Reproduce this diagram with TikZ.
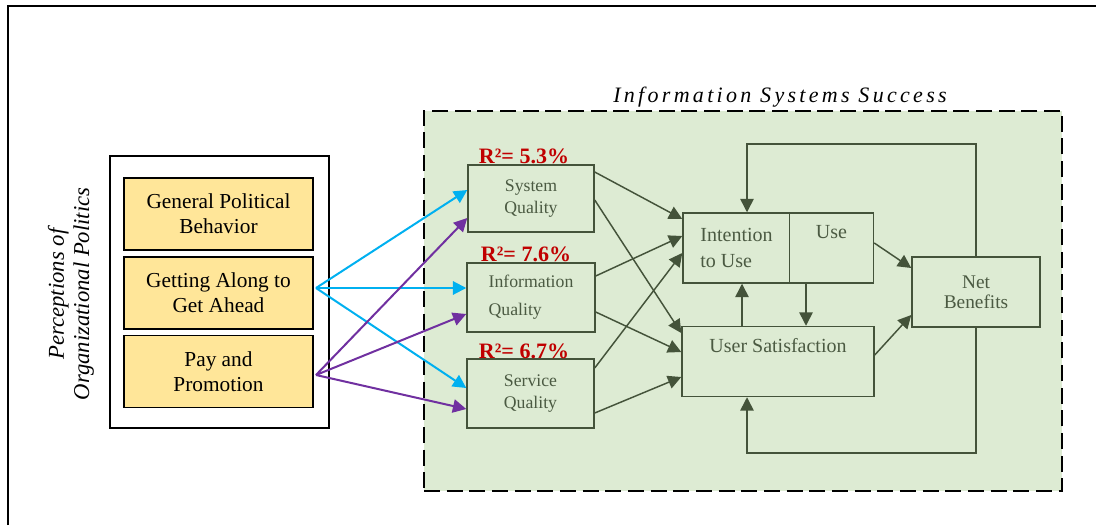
\documentclass[tikz,border=0pt]{standalone}
\usepackage{fontspec}
\setmainfont{Liberation Serif}
\usetikzlibrary{arrows.meta}

\definecolor{regionfill}{HTML}{DDEBD3}
\definecolor{gline}{HTML}{44533A}
\definecolor{gtext}{HTML}{4B5A42}
\definecolor{ybox}{HTML}{FFE699}
\definecolor{rtwo}{HTML}{C00000}
\definecolor{cyanarrow}{HTML}{00B0F0}
\definecolor{purplearrow}{HTML}{7030A0}

\begin{document}
\begin{tikzpicture}[x=0.75pt,y=-0.75pt,
  region/.style={draw=black, line width=2.2pt, dash pattern=on 12pt off 5pt,
    fill=regionfill, inner sep=0},
  outerbox/.style={draw=black, line width=1.2pt, fill=white, inner sep=0},
  ybox/.style={draw=black, line width=1.3pt, fill=ybox, inner sep=0,
    minimum width=189*0.75pt, minimum height=72*0.75pt, align=center,
    font=\fontsize{16}{19}\selectfont},
  gbox/.style={draw=gline, line width=1.1pt, fill=regionfill, text=gtext,
    inner sep=0, align=center},
  qual/.style={gbox, font=\fontsize{13.3}{16}\selectfont},
  rsq/.style={text=rtwo, font=\bfseries\fontsize{16.5}{18}\selectfont, inner sep=0},
  tip/.style={-{Triangle[length=10pt,width=10pt]}},
  garrow/.style={draw=gline, line width=1.1pt, tip},
  carrow/.style={draw=cyanarrow, line width=1.5pt, tip},
  parrow/.style={draw=purplearrow, line width=1.5pt, tip}]

\useasboundingbox (0,0) rectangle (1096,525);
\draw[line width=1.3pt] (8,525) -- (8,6) -- (1096,6);

% Information systems success region
\node[region, minimum width=638*0.75pt, minimum height=380*0.75pt] (iss) at (743,301) {};
\node[font=\itshape\fontsize{16.5}{18}\selectfont\addfontfeatures{LetterSpace=15}] (isstitle) at (780,97) {Information Systems Success};

% Perceptions of organizational politics
\node[outerbox, minimum width=219*0.75pt, minimum height=272*0.75pt] (pop) at (219.5,292) {};
\node[rotate=90, align=center, font=\itshape\fontsize{17}{19}\selectfont] (poplabel) at (71,294) {Perceptions of\\Organizational Politics};
\node[ybox] (gpb) at (218.5,214) {General Political\\Behavior};
\node[ybox] (gaga) at (218.5,293) {Getting Along to\\Get Ahead};
\node[ybox] (pp) at (218.5,371.5) {Pay and\\Promotion};

% Quality constructs
\node[qual, minimum width=126*0.75pt, minimum height=67*0.75pt] (sq) at (531,198.5) {System\\Quality};
\node[qual, minimum width=128*0.75pt, minimum height=69*0.75pt, align=left,
  font=\fontsize{13.3}{21}\selectfont] (iq) at (531,297.5) {Information\\Quality};
\node[qual, minimum width=127*0.75pt, minimum height=69*0.75pt] (svq) at (530.5,393.5) {Service\\Quality};

\node[rsq] (r1) at (524,156) {R²= 5.3\%};
\node[rsq] (r2) at (526,254) {R²= 7.6\%};
\node[rsq] (r3) at (524,351) {R²= 6.7\%};

% Use, satisfaction and benefits
\node[gbox, align=left, minimum width=107*0.75pt, minimum height=70*0.75pt,
  font=\fontsize{15}{19}\selectfont] (intent) at (736.5,248) {Intention\\to Use};
\node[gbox, minimum width=84*0.75pt, minimum height=70*0.75pt,
  font=\fontsize{15}{19}\selectfont] (use) at (831.5,248) {Use\\\strut};
\node[gbox, minimum width=192*0.75pt, minimum height=70*0.75pt,
  font=\fontsize{15}{19}\selectfont] (us) at (778,361.5) {User Satisfaction\\\strut};
\node[gbox, minimum width=128*0.75pt, minimum height=70*0.75pt,
  font=\fontsize{14.5}{15}\selectfont] (nb) at (976,292) {Net\\Benefits};

% Arrows from the politics dimensions
\coordinate (bsrc) at (316,288);
\coordinate (psrc) at (316,375);
\draw[carrow] (bsrc) -- (sq.west |- 0,190);
\draw[carrow] (bsrc) -- (iq.west |- 0,288);
\draw[carrow] (bsrc) -- (svq.west |- 0,388);
\draw[parrow] (psrc) -- (sq.west |- 0,218);
\draw[parrow] (psrc) -- (iq.west |- 0,314);
\draw[parrow] (psrc) -- (svq.west |- 0,409);

% D&M model paths
\draw[garrow] (sq.east |- 0,172) -- (intent.west |- 0,219);
\draw[garrow] (sq.east |- 0,200) -- (us.west |- 0,333);
\draw[garrow] (iq.east |- 0,276) -- (intent.west |- 0,236);
\draw[garrow] (iq.east |- 0,312) -- (us.west |- 0,352);
\draw[garrow] (svq.east |- 0,368) -- (intent.west |- 0,253);
\draw[garrow] (svq.east |- 0,413) -- (us.west |- 0,377);
\draw[garrow] (use.east |- 0,243) -- (nb.west |- 0,268);
\draw[garrow] (us.east |- 0,355) -- (nb.west |- 0,315);
\draw[garrow] (us.north -| 742,0) -- (intent.south -| 742,0);
\draw[garrow] (use.south -| 806,0) -- (us.north -| 806,0);

% Feedback loops from net benefits
\coordinate (fbtop) at (747,144);
\coordinate (fbbot) at (747,453);
\draw[garrow] (nb.north) |- (fbtop) -- (intent.north -| fbtop);
\draw[garrow] (nb.south) |- (fbbot) -- (us.south -| fbbot);
\end{tikzpicture}
\end{document}
